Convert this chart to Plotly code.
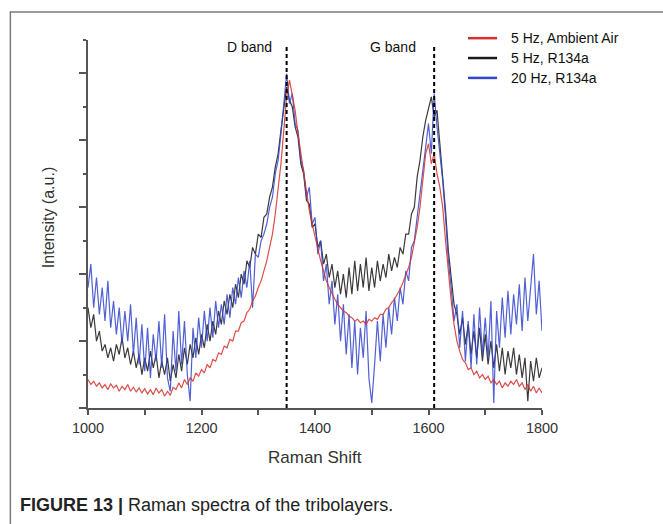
import plotly.graph_objects as go

# Raman shift grid (cm^-1), 5 cm^-1 step
raman_shift = list(range(1000, 1805, 5))

ambient_air_5hz = [
    0.85, 0.7, 0.8, 0.65, 0.75, 0.6, 0.7, 0.55, 0.72, 0.6,
    0.68, 0.5, 0.65, 0.55, 0.7, 0.5, 0.62, 0.48, 0.6, 0.45,
    0.58, 0.42, 0.55, 0.4, 0.6, 0.45, 0.55, 0.35, 0.5, 0.38,
    0.62, 0.55, 0.75, 0.6, 0.85, 0.7, 0.9, 0.8, 1.05, 0.95,
    1.15, 1.05, 1.3, 1.2, 1.45, 1.4, 1.65, 1.6, 1.85, 1.8,
    2.05, 2.0, 2.3, 2.3, 2.55, 2.6, 2.85, 2.95, 3.2, 3.35,
    3.6, 3.8, 4.1, 4.4, 4.8, 5.2, 5.8, 6.5, 7.3, 8.3,
    9.3, 9.8, 9.4, 8.9, 8.2, 7.6, 7.0, 6.4, 5.9, 5.5,
    5.1, 4.7, 4.4, 4.1, 3.8, 3.6, 3.4, 3.25, 3.1, 3.0,
    2.9, 2.85, 2.75, 2.7, 2.6, 2.65, 2.55, 2.6, 2.5, 2.65,
    2.6, 2.7, 2.65, 2.8, 2.8, 2.95, 3.0, 3.15, 3.25, 3.4,
    3.55, 3.75, 3.95, 4.2, 4.5, 4.9, 5.4, 6.0, 6.8, 7.6,
    7.9, 7.3, 7.6, 7.0, 6.6, 6.0, 5.0, 4.0, 3.2, 2.5,
    2.0, 1.7, 1.45, 1.35, 1.15, 1.2, 1.0, 1.1, 0.9, 1.0,
    0.85, 0.95, 0.75, 0.85, 0.7, 0.8, 0.6, 0.75, 0.65, 0.8,
    0.7, 0.85, 0.65, 0.75, 0.55, 0.7, 0.5, 0.65, 0.45, 0.6,
    0.45,
]

r134a_5hz = [
    3.0, 2.4, 2.8, 2.0, 2.3, 1.7, 1.9, 1.5, 1.8, 1.4,
    1.9, 1.6, 2.1, 1.5, 1.8, 1.3, 1.7, 1.2, 1.6, 1.0,
    1.5, 1.1, 1.7, 1.2, 1.6, 0.9, 1.4, 1.0, 1.5, 0.8,
    1.3, 0.9, 1.6, 1.1, 1.8, 1.3, 1.9, 1.5, 2.1, 1.6,
    2.2, 1.8, 2.5, 2.0, 2.6, 2.2, 2.9, 2.5, 3.2, 2.8,
    3.4, 3.0, 3.7, 3.3, 4.0, 3.7, 4.4, 4.2, 4.8, 4.6,
    5.2, 5.1, 5.7, 5.8, 6.3, 6.6, 7.2, 7.6, 8.3, 8.9,
    9.6, 9.2, 9.0, 8.4, 8.1, 7.3, 7.0, 6.2, 6.1, 5.4,
    5.5, 4.8, 5.0, 4.3, 4.6, 3.9, 4.3, 3.6, 4.1, 3.4,
    4.0, 3.3, 4.2, 3.4, 4.4, 3.5, 4.3, 3.6, 4.5, 3.5,
    4.2, 3.6, 4.4, 3.8, 4.3, 3.9, 4.6, 4.1, 4.5, 4.2,
    4.8, 4.6, 5.2, 5.2, 5.8, 6.0, 6.9, 7.4, 8.1, 8.6,
    9.0, 9.3, 8.7, 8.9, 7.9, 7.0, 5.9, 4.7, 3.8, 3.1,
    2.8, 2.2, 2.7, 1.9, 2.5, 1.6, 2.3, 1.5, 2.4, 1.4,
    2.2, 1.3, 2.0, 1.2, 1.9, 1.1, 1.8, 1.0, 1.7, 1.2,
    1.8, 1.0, 1.6, 0.9, 1.5, 0.2, 1.4, 0.8, 1.5, 0.9,
    1.2,
]

r134a_20hz = [
    3.6, 4.3, 3.0, 3.9, 2.8, 3.6, 2.6, 3.8, 2.4, 3.2,
    2.2, 3.0, 1.9, 2.9, 2.0, 3.1, 1.6, 2.7, 1.3, 2.5,
    1.1, 2.4, 0.9, 2.2, 1.4, 2.6, 1.2, 2.8, 0.9, 0.5,
    2.3, 1.1, 2.9, 1.3, 2.6, 1.0, 0.2, 2.4, 1.5, 2.7,
    1.8, 2.9, 2.0, 3.0, 2.1, 3.2, 2.4, 3.1, 2.5, 3.4,
    2.7, 3.6, 3.1, 3.9, 3.3, 4.1, 3.6, 4.4, 3.0, 4.6,
    4.5, 5.0, 5.2, 5.5, 6.0, 6.3, 7.0, 7.4, 8.2, 9.0,
    10.0, 9.1, 9.4, 8.5, 8.3, 7.4, 7.1, 6.3, 6.6, 5.5,
    5.7, 4.6, 5.0, 3.8, 4.3, 3.1, 3.8, 2.5, 3.4, 2.0,
    3.1, 1.6, 2.8, 1.2, 2.6, 1.0, 2.4, 1.5, 2.9, 0.9,
    0.15, 1.3, 2.6, 1.4, 2.8, 1.8, 3.0, 2.2, 3.3, 2.6,
    3.6, 3.1, 4.1, 3.8, 4.8, 5.0, 5.8, 6.4, 7.1, 7.9,
    8.5, 7.6, 9.4, 8.4, 7.6, 6.8, 5.7, 4.4, 3.6, 2.6,
    3.1, 1.8, 2.9, 1.4, 2.6, 1.2, 2.8, 1.3, 3.0, 1.6,
    2.7, 1.5, 3.2, 0.15, 2.9, 1.8, 3.3, 2.1, 3.5, 2.2,
    3.4, 2.5, 3.7, 2.3, 3.9, 2.6, 3.6, 4.6, 2.8, 3.8,
    2.3,
]

series_names = ["5 Hz, Ambient Air", "5 Hz, R134a", "20 Hz, R134a"]
series_colors = ["#d5302b", "#1a1a1a", "#3346cc"]

band_positions = [1350, 1610]
band_labels = ["D band", "G band"]
band_label_x = [1285, 1537]

x_ticks = [1000, 1200, 1400, 1600, 1800]

fig = go.Figure()

# draw order: black, blue, red (red on top)
for idx, ys in [(1, r134a_5hz), (2, r134a_20hz), (0, ambient_air_5hz)]:
    fig.add_trace(go.Scatter(
        x=raman_shift, y=ys, mode="lines",
        line=dict(color=series_colors[idx], width=1.2),
        opacity=0.85, name=series_names[idx], showlegend=False,
    ))

# dashed band markers
for bx in band_positions:
    fig.add_shape(type="line", xref="x", yref="y", x0=bx, x1=bx, y0=0, y1=10.8,
                  line=dict(color="black", width=2, dash="4px,3px"))
for lbl, lx in zip(band_labels, band_label_x):
    fig.add_annotation(x=lx, y=10.8, xref="x", yref="y", text=lbl, showarrow=False,
                       font=dict(family="Liberation Sans, Arial", size=14, color="#111"),
                       xanchor="center", yanchor="middle")

# custom legend
leg_y = [1.005, 0.951, 0.897]
for name, col, ly in zip(series_names, series_colors, leg_y):
    fig.add_shape(type="line", xref="paper", yref="paper", x0=0.837, x1=0.901, y0=ly, y1=ly,
                  line=dict(color=col, width=2.5))
    fig.add_annotation(x=0.927, y=ly, xref="paper", yref="paper", text=name, showarrow=False,
                       xanchor="left", yanchor="middle",
                       font=dict(family="Liberation Sans, Arial", size=14, color="#111"))

# outer frame
fig.add_shape(type="rect", xref="paper", yref="paper", x0=-0.171, x1=1.28, y0=-0.35, y1=1.076,
              line=dict(color="#7a7a7a", width=1.5), layer="below")

# axis titles and caption
fig.add_annotation(x=0.5, y=-0.135, xref="paper", yref="paper", text="Raman Shift", showarrow=False,
                   font=dict(family="Liberation Sans, Arial", size=17, color="#333"),
                   xanchor="center", yanchor="middle")
fig.add_annotation(x=-0.088, y=0.516, xref="paper", yref="paper", text="Intensity (a.u.)",
                   showarrow=False, textangle=-90,
                   font=dict(family="Liberation Sans, Arial", size=16, color="#333"),
                   xanchor="center", yanchor="middle")
fig.add_annotation(x=-0.1538, y=-0.2636, xref="paper", yref="paper",
                   text="<b>FIGURE 13 |</b> Raman spectra of the tribolayers.", showarrow=False,
                   xanchor="left", yanchor="middle",
                   font=dict(family="Liberation Sans, Arial", size=18, color="#222"))

fig.update_layout(
    width=663, height=524,
    margin=dict(l=88, r=121, t=40, b=116),
    paper_bgcolor="white", plot_bgcolor="white",
    showlegend=False,
    xaxis=dict(range=[1000, 1800], tickvals=x_ticks, ticktext=[str(v) for v in x_ticks],
               showline=True, linecolor="#555", linewidth=1.5, ticks="outside", ticklen=5,
               tickcolor="#555", tickwidth=1.5, showgrid=False, zeroline=False,
               tickfont=dict(family="Liberation Sans, Arial", size=14.5, color="#333"),
               minor=dict(dtick=100, tick0=1000, ticks="outside", ticklen=5, tickcolor="#555"),
               ticklabelstandoff=1),
    yaxis=dict(range=[0, 11], showline=True, linecolor="#555", linewidth=1.5, ticks="outside",
               ticklen=7, tickcolor="#555", tickwidth=1.5, dtick=2, tick0=0, showticklabels=False,
               showgrid=False, zeroline=False,
               minor=dict(dtick=1, tick0=0, ticks="outside", ticklen=3, tickcolor="#555")),
)

fig.write_html("out.html")
